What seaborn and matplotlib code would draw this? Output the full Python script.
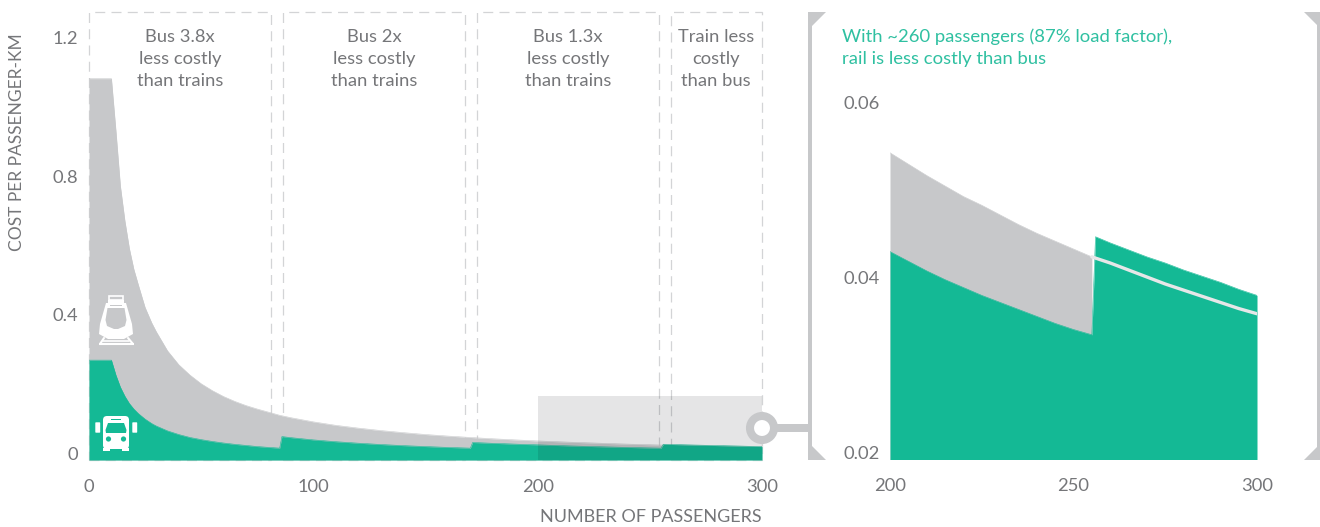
import numpy as np
import pandas as pd
import seaborn as sns
import matplotlib.pyplot as plt
from matplotlib.patches import Rectangle, Polygon, Circle, FancyBboxPatch

# values
rail_x = [0, 10, 12, 14, 16, 18, 20, 22, 25, 28, 30, 33, 35, 40, 45, 50, 55, 60, 65, 70, 75, 80, 85, 90, 100, 110, 120, 130, 140,
          150, 160, 170, 180, 190, 200, 205, 210, 215, 220, 225, 230, 235, 240, 245, 250, 255,
          260, 265, 270, 275, 280, 285, 290, 295, 300]
rail_y = [1.10, 1.10, 0.95, 0.79, 0.69, 0.61, 0.55, 0.505, 0.44, 0.395, 0.37, 0.337, 0.315, 0.275, 0.245, 0.22, 0.2, 0.183, 0.169,
          0.157, 0.147, 0.138, 0.129, 0.122, 0.11, 0.1, 0.092, 0.085, 0.079, 0.0735, 0.069, 0.065, 0.0612, 0.058,
          0.055, 0.0537, 0.0524, 0.0512, 0.05, 0.049, 0.0479, 0.0468, 0.0458, 0.0449, 0.044, 0.0431,
          0.0424, 0.0416, 0.0408, 0.04, 0.0393, 0.0386, 0.0379, 0.0372, 0.0366]
bus_x = [0, 10, 12, 14, 16, 18, 20, 22, 25, 28, 30, 35, 40, 45, 50, 55, 60, 65, 70, 75, 80, 85,
         86, 90, 95, 100, 110, 120, 130, 140, 150, 160, 170,
         171, 175, 180, 185, 190, 195, 200, 205, 210, 215, 220, 225, 230, 235, 240, 245, 250, 255,
         256, 260, 265, 270, 275, 280, 285, 290, 295, 300]
bus_y = [0.288, 0.288, 0.245, 0.21, 0.184, 0.163, 0.147, 0.134, 0.118, 0.105, 0.098, 0.084, 0.0735, 0.065, 0.0588, 0.0535, 0.049,
         0.0452, 0.042, 0.0388, 0.0364, 0.0342,
         0.0676, 0.0645, 0.0612, 0.058, 0.0528, 0.0485, 0.0447, 0.0415, 0.0388, 0.0363, 0.0342,
         0.0505, 0.0495, 0.0481, 0.047, 0.0458, 0.0447, 0.0437, 0.0426, 0.0415, 0.0405, 0.0396, 0.0387, 0.0379, 0.0371,
         0.0363, 0.0355, 0.0348, 0.0342,
         0.0454, 0.0447, 0.0439, 0.0431, 0.0424, 0.0416, 0.0409, 0.0402, 0.0394, 0.0387]

box_edges = [(0, 81.1), (86.5, 167.6), (173, 254.1), (259.4, 300)]
box_labels = ['Bus 3.8x\nless costly\nthan trains', 'Bus 2x\nless costly\nthan trains',
              'Bus 1.3x\nless costly\nthan trains', 'Train less\ncostly\nthan bus']
zoom_range = (200, 300, 0.185)

GREEN = '#14b995'
GREY = '#c7c8ca'
TEXT = '#757679'
W, H = 1320, 527

sns.set_theme(style='white')
plt.rcParams['font.family'] = ['Lato', 'DejaVu Sans']

rail = pd.DataFrame({'x': rail_x, 'y': rail_y})
bus = pd.DataFrame({'x': bus_x, 'y': bus_y})


def px_axes(fig, x0, x1, y_top, y_bot):
    return fig.add_axes([x0 / W, 1 - y_bot / H, (x1 - x0) / W, (y_bot - y_top) / H])


def draw_areas(ax, rail_df, bus_df):
    ax.fill_between(rail_df['x'], rail_df['y'], color=GREY, lw=0, zorder=2)
    ax.fill_between(bus_df['x'], bus_df['y'], color=GREEN, lw=0, zorder=3)
    sns.lineplot(data=rail_df, x='x', y='y', ax=ax, color=GREY, lw=0.4, zorder=2, errorbar=None, sort=False)
    sns.lineplot(data=bus_df, x='x', y='y', ax=ax, color=GREEN, lw=0.4, zorder=3, errorbar=None, sort=False)


def style_axes(ax):
    sns.despine(ax=ax, left=True, bottom=True)
    ax.patch.set_alpha(0)
    ax.set_xlabel('')
    ax.set_ylabel('')
    ax.tick_params(axis='both', length=0, labelsize=13.2, labelcolor=TEXT)
    ax.tick_params(axis='y', pad=7.5)
    ax.tick_params(axis='x', pad=14)
    for lab in ax.get_yticklabels():
        lab.set_va('baseline')


fig = plt.figure(figsize=(W / 100, H / 100), dpi=100, facecolor='white')

# left panel
ax = px_axes(fig, 89, 762, 12, 460)
draw_areas(ax, rail, bus)
for x0, x1 in box_edges:
    ax.add_patch(Rectangle((x0, 0), x1 - x0, 448 / 346.7, fill=False, ec='#d3d4d6', lw=0.9,
                           ls=(0, (8, 5)), zorder=1, clip_on=False))
ax.add_patch(Rectangle((zoom_range[0], 0), zoom_range[1] - zoom_range[0], zoom_range[2],
                       fc='#00050a', alpha=0.1, lw=0, zorder=4))
ax.set_xlim(0, 300)
ax.set_ylim(0, 448 / 346.7)
ax.set_xticks([0, 100, 200, 300])
ax.set_yticks([0, 0.4, 0.8, 1.2], ['0', '0.4', '0.8', '1.2'])
style_axes(ax)

# right panel
ax2 = px_axes(fig, 890, 1257, 12, 459)
r = rail[rail['x'] >= 200]
b = bus[bus['x'] >= 200]
draw_areas(ax2, r[r['x'] <= 255], b)
after = r[r['x'] >= 255]
sns.lineplot(data=after, x='x', y='y', ax=ax2, color='#e6e7e8', lw=2.4, zorder=5, errorbar=None)
ax2.set_xlim(200, 300)
ax2.set_ylim(0.02, 0.02 + 447 / 8750)
ax2.set_xticks([200, 250, 300])
ax2.set_yticks([0.02, 0.04, 0.06], ['0.02', '0.04', '0.06'])
style_axes(ax2)

# overlay in pixel coordinates for the annotations and decoration
ov = fig.add_axes([0, 0, 1, 1], zorder=10)
ov.set_xlim(0, W)
ov.set_ylim(H, 0)
ov.axis('off')

for cx, label in zip([180, 374, 568, 716], box_labels):
    ov.text(cx, 59, label, ha='center', va='center', fontsize=13.2, color=TEXT, linespacing=1.43)
ov.text(842, 48, 'With ~260 passengers (87% load factor),\nrail is less costly than bus', ha='left', va='center',
        fontsize=13.3, color='#2fc0a1', linespacing=1.43)
ov.text(762, 517, 'NUMBER OF PASSENGERS', ha='right', va='center', fontsize=13, color=TEXT)
ov.text(17, 142, 'COST PER PASSENGER-KM', ha='center', va='center', rotation=90, fontsize=12.5, color=TEXT)

# zoom connector
ov.add_patch(Rectangle((770, 424), 40, 8, fc=GREY, lw=0))
ov.add_patch(Circle((762, 428), 12, fc='white', ec=GREY, lw=5.8))

# brackets
ov.add_patch(Rectangle((808, 12), 4, 448, fc=GREY, lw=0))
ov.add_patch(Polygon([(808, 12), (826, 12), (808, 30)], fc=GREY, lw=0))
ov.add_patch(Polygon([(808, 460), (826, 460), (808, 442)], fc=GREY, lw=0))
ov.add_patch(Rectangle((1317, 12), 3, 448, fc=GREY, lw=0))
ov.add_patch(Polygon([(1320, 12), (1304, 12), (1320, 28)], fc=GREY, lw=0))
ov.add_patch(Polygon([(1320, 460), (1304, 460), (1320, 444)], fc=GREY, lw=0))

# train icon
ov.add_patch(Rectangle((109, 296), 14, 4, fc=GREY, ec='white', lw=1.2))
ov.add_patch(Polygon([(106, 303), (126, 303), (132, 324), (133, 334), (124, 339), (108, 339), (99, 334), (100, 324)],
                     fc='white', lw=0))
ov.add_patch(Rectangle((108, 300), 16, 3, fc='white', lw=0))
ov.add_patch(Rectangle((110, 305), 12, 1.4, fc=GREY, lw=0))
ov.add_patch(Polygon([(107.5, 308), (124.5, 308), (126.5, 320), (125, 326), (118, 329), (114, 329), (107, 326), (105.5, 320)],
                     fc=GREY, lw=0))
ov.plot([99, 134], [344, 344], color='white', lw=1.5, solid_capstyle='butt')
ov.plot([104, 100], [338, 344], color='white', lw=1.5)
ov.plot([128, 133], [338, 344], color='white', lw=1.5)
ov.plot([103, 129], [341, 341], color='white', lw=1.2)

# bus icon
ov.add_patch(FancyBboxPatch((105, 418), 22, 29, boxstyle='round,pad=2,rounding_size=4', fc='white', lw=0))
ov.add_patch(Polygon([(108, 423), (124, 423), (126.5, 430), (126, 433), (106, 433), (105.5, 430)], fc=GREEN, lw=0))
ov.add_patch(Rectangle((111, 418.5), 10, 1.4, fc=GREEN, lw=0))
ov.add_patch(FancyBboxPatch((96, 423), 3.5, 9, boxstyle='round,pad=0.7', fc='white', lw=0))
ov.add_patch(FancyBboxPatch((133, 423), 3.5, 9, boxstyle='round,pad=0.7', fc='white', lw=0))
ov.add_patch(Circle((108.5, 439), 2.6, fc=GREEN, lw=0))
ov.add_patch(Circle((123.5, 439), 2.6, fc=GREEN, lw=0))
ov.add_patch(Rectangle((103, 448), 7, 3, fc='white', lw=0))
ov.add_patch(Rectangle((122, 448), 7, 3, fc='white', lw=0))

fig.savefig('out.png', dpi=100)
